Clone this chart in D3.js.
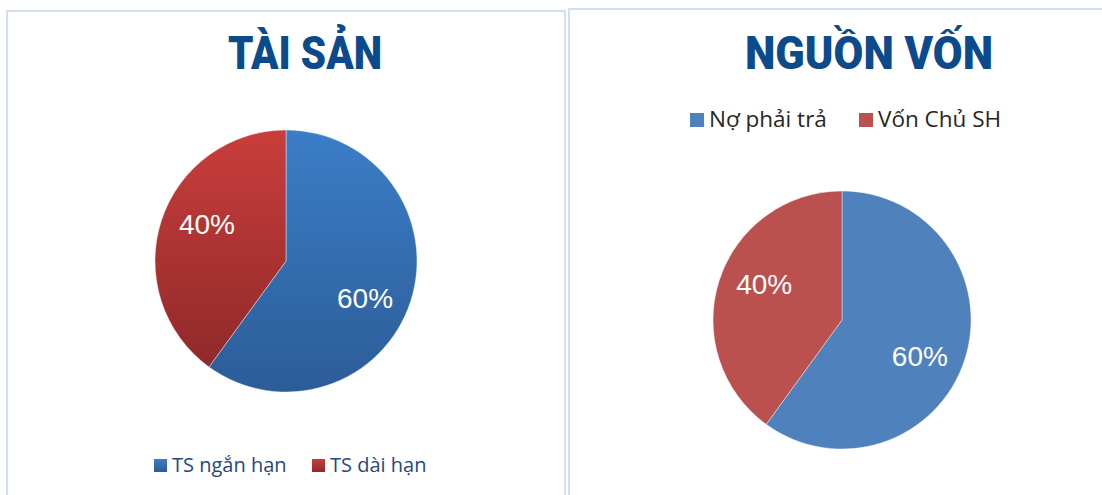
<!DOCTYPE html>
<html>
<head>
<meta charset="utf-8">
<script src="https://cdn.jsdelivr.net/npm/d3@7"></script>
<style>
  body { margin: 0; background: #fff; }
  svg { display: block; }
</style>
</head>
<body>
<div id="chart"></div>
<script>
// values
var assetLabels = ["TS ngắn hạn", "TS dài hạn"];
var assetValues = [60, 40];
var capitalLabels = ["Nợ phải trả", "Vốn Chủ SH"];
var capitalValues = [60, 40];
var titles = ["TÀI SẢN", "NGUỒN VỐN"];

var W = 1102, H = 495;
var svg = d3.select("#chart").append("svg")
	.attr("width", W)
	.attr("height", H);

var defs = svg.append("defs");
function addGrad(id, top, bottom) {
	var g = defs.append("linearGradient")
		.attr("id", id)
		.attr("x1", 0).attr("y1", 0).attr("x2", 0).attr("y2", 1);
	g.append("stop").attr("offset", "0%").attr("stop-color", top);
	g.append("stop").attr("offset", "100%").attr("stop-color", bottom);
}
addGrad("gBlue", "#3b7ec7", "#2c5c98");
addGrad("gRed", "#c93e3b", "#90292a");

// panel frames
svg.append("rect")
	.attr("x", 7).attr("y", 11).attr("width", 558).attr("height", 500)
	.attr("fill", "none").attr("stroke", "#d3dff0").attr("stroke-width", 2);
svg.append("rect")
	.attr("x", 569).attr("y", 9).attr("width", 560).attr("height", 500)
	.attr("fill", "none").attr("stroke", "#d3dff0").attr("stroke-width", 2);

function title(text, cx, w) {
	svg.append("text")
		.attr("x", cx)
		.attr("y", 69)
		.attr("text-anchor", "middle")
		.attr("font-family", "Roboto, 'DejaVu Sans', sans-serif")
		.attr("font-weight", 900)
		.attr("font-size", "46px")
		.attr("fill", "#0b4a8b")
		.attr("textLength", w)
		.attr("lengthAdjust", "spacingAndGlyphs")
		.text(text);
}
title(titles[0], 305, 154);
title(titles[1], 869, 248);

var pie = d3.pie().sort(null).value(function (d) { return d; });

function drawPie(values, cx, cy, r, fills) {
	var g = svg.append("g").attr("transform", "translate(" + cx + "," + cy + ")");
	var arc = d3.arc().innerRadius(0).outerRadius(r);
	var total = d3.sum(values);
	var arcs = pie(values);
	g.selectAll("path")
		.data(arcs)
		.enter()
		.append("path")
			.attr("d", arc)
			.attr("fill", function (d, i) { return fills[i]; })
			.attr("stroke", "rgba(255,255,255,0.5)")
			.attr("stroke-width", 0.8);
	// excel's best-fit puts the labels a bit past the mid angle
	var lr = r * 0.665;
	g.selectAll(".lbl")
		.data(arcs)
		.enter()
		.append("text")
			.attr("class", "lbl")
			.attr("transform", function (d) {
				var a = (d.startAngle + d.endAngle) / 2 + 0.12;
				return "translate(" + (Math.sin(a) * lr) + "," + (-Math.cos(a) * lr) + ")";
			})
			.attr("text-anchor", "middle")
			.attr("dy", "0.36em")
			.attr("font-family", "'Liberation Sans', Arial, sans-serif")
			.attr("font-size", "28px")
			.attr("fill", "#ffffff")
			.text(function (d) { return Math.round(d.value / total * 100) + "%"; });
}
drawPie(assetValues, 286, 261, 131, ["url(#gBlue)", "url(#gRed)"]);
drawPie(capitalValues, 842, 320, 129, ["#4f81bd", "#bb514e"]);

function legend(labels, colors, xs, y, color, size, sq) {
	for (var i = 0; i < labels.length; i++) {
		svg.append("rect")
			.attr("x", xs[i]).attr("y", y - sq)
			.attr("width", sq).attr("height", sq)
			.attr("fill", colors[i]);
		svg.append("text")
			.attr("x", xs[i] + sq + 5)
			.attr("y", y)
			.attr("font-family", "'Open Sans', sans-serif")
			.attr("font-size", size)
			.attr("fill", color)
			.text(labels[i]);
	}
}
legend(assetLabels, ["url(#gBlue)", "url(#gRed)"], [154, 312], 472, "#27487a", "20px", 13);
legend(capitalLabels, ["#4f81bd", "#bb514e"], [690, 859], 127, "#262626", "22.5px", 14);
</script>
</body>
</html>
